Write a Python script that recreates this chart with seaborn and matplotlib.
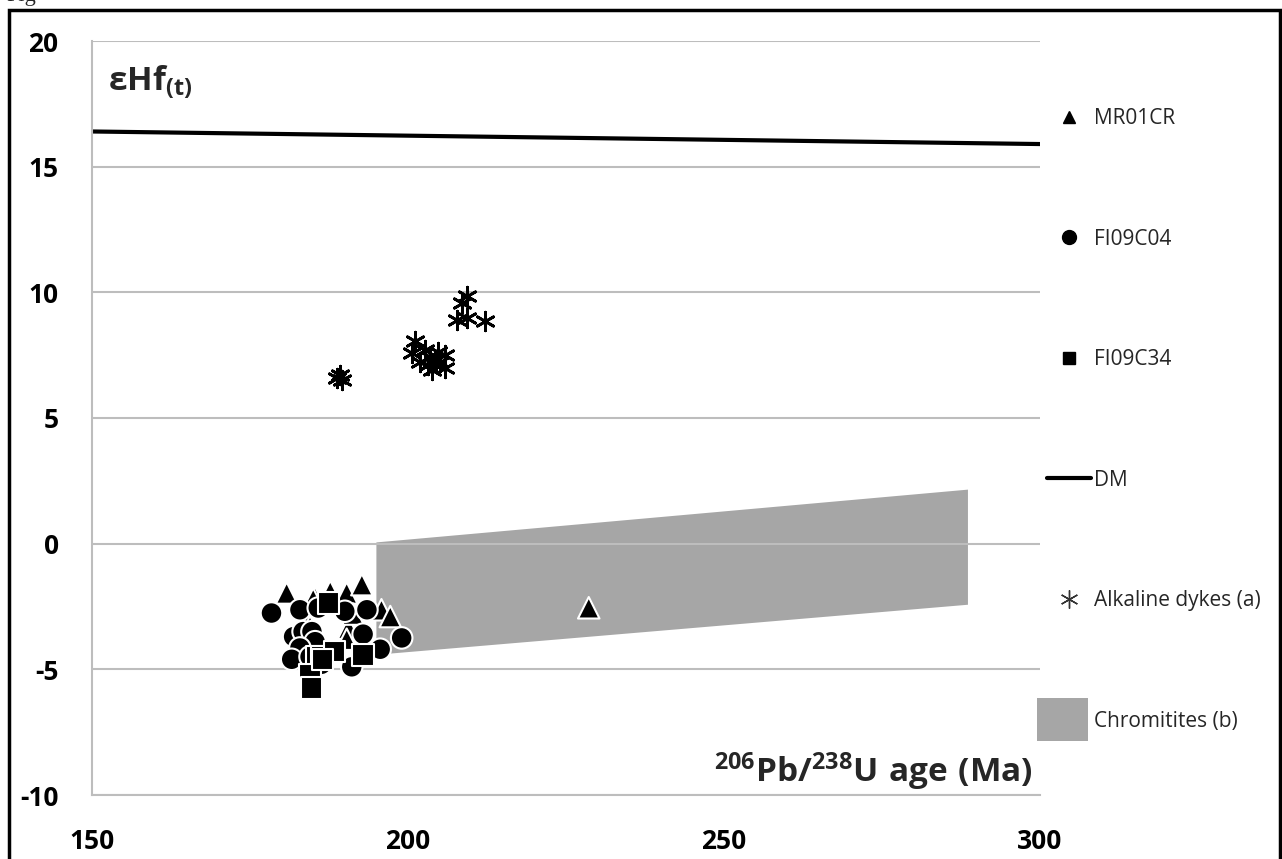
import matplotlib
matplotlib.use("Agg")
import matplotlib.pyplot as plt
import seaborn as sns
import pandas as pd
from matplotlib.lines import Line2D
from matplotlib.patches import Patch, Rectangle
from matplotlib.legend_handler import HandlerPatch

# =========================
# Data
# =========================
mr01cr_age = [180.8, 185.3, 187.7, 190.3, 192.7, 195.8, 197.2, 184.2, 190.6, 190.3, 191.3, 185.0, 184.5, 228.6]
mr01cr_ehf = [-1.96, -2.15, -1.90, -1.96, -1.63, -2.63, -2.90, -3.10, -3.36, -3.80, -2.80, -2.20, -3.30, -2.55]

fi09c04_age = [178.4, 182.9, 185.8, 190.0, 193.5, 199.0, 192.9, 195.6, 181.9, 183.4,
               184.8, 185.3, 182.9, 181.6, 184.5, 186.3, 191.1]
fi09c04_ehf = [-2.76, -2.63, -2.56, -2.69, -2.63, -3.75, -3.60, -4.20, -3.70, -3.50,
               -3.50, -3.90, -4.15, -4.60, -4.50, -4.80, -4.90]

fi09c34_age = [187.4, 185.6, 186.3, 188.4, 192.9, 184.5, 184.7, 186.5]
fi09c34_ehf = [-2.36, -4.48, -4.50, -4.29, -4.42, -5.20, -5.75, -4.60]

dykes_age = [209.3, 208.5, 207.7, 209.3, 212.2, 201.1, 200.6, 203.5, 204.3, 205.1, 203.2,
             205.9, 202.7, 204.8, 203.8, 205.9, 201.9, 189.2, 189.5, 188.8]
dykes_ehf = [9.84, 9.58, 8.91, 8.98, 8.85, 8.05, 7.59, 7.44, 7.30, 7.24, 7.10,
             7.00, 7.70, 7.64, 6.92, 7.50, 7.24, 6.72, 6.50, 6.60]

dm_age = [150, 300]
dm_ehf = [16.4, 15.9]

chrom_age = [195.0, 288.6, 288.6, 195.0]
chrom_ehf = [0.05, 2.15, -2.43, -4.42]

legend_labels = ["MR01CR", "FI09C04", "FI09C34", "DM", "Alkaline dykes (a)", "Chromitites (b)"]

# =========================
# Style
# =========================
sns.set_style("white")
plt.rcParams["font.family"] = ["Open Sans", "DejaVu Sans"]
plt.rcParams["axes.unicode_minus"] = False

grid_col = "#bdbdbd"
chrom_col = "#a6a6a6"

fig = plt.figure(figsize=(12.82, 8.59), dpi=100)
ax = fig.add_axes([92 / 1282, 1 - 795 / 859, 948 / 1282, 754 / 859])

samples = pd.DataFrame({
    "age": mr01cr_age + fi09c04_age + fi09c34_age,
    "ehf": mr01cr_ehf + fi09c04_ehf + fi09c34_ehf,
    "sample": ["MR01CR"] * len(mr01cr_age) + ["FI09C04"] * len(fi09c04_age) + ["FI09C34"] * len(fi09c34_age),
})
dykes = pd.DataFrame({"age": dykes_age, "ehf": dykes_ehf})
dm = pd.DataFrame({"age": dm_age, "ehf": dm_ehf})

# chromitite field
ax.fill(chrom_age, chrom_ehf, color=chrom_col, lw=0, zorder=0.3)

# DM line
sns.lineplot(data=dm, x="age", y="ehf", color="black", lw=3, ax=ax, zorder=2)

# alkaline dykes
sns.scatterplot(data=dykes, x="age", y="ehf", marker=(6, 2, 0), s=180, color="black",
                linewidth=2, ax=ax, zorder=3, legend=False)

# zircon samples
sns.scatterplot(data=samples, x="age", y="ehf", style="sample",
                markers={"MR01CR": "^", "FI09C04": "o", "FI09C34": "s"},
                s=240, color="black", edgecolor="white", linewidth=1.5,
                ax=ax, zorder=4, legend=False)

# =========================
# Axes
# =========================
ax.set_xlim(150, 300)
ax.set_ylim(-10, 20)
ax.set_xticks([150, 200, 250, 300])
ax.set_yticks(range(-10, 21, 5))
ax.set_xlabel("")
ax.set_ylabel("")
ax.set_axisbelow(True)
ax.yaxis.grid(True, color=grid_col, lw=1.5)
ax.xaxis.grid(False)
for side in ["top", "right"]:
    ax.spines[side].set_visible(False)
for side in ["left", "bottom"]:
    ax.spines[side].set_color(grid_col)
    ax.spines[side].set_linewidth(1.5)
ax.tick_params(axis="both", direction="out", length=10, width=1.5, color=grid_col,
               labelsize=19, labelcolor="black")
ax.tick_params(axis="x", pad=14)
ax.tick_params(axis="y", pad=14)
for lab in ax.get_xticklabels() + ax.get_yticklabels():
    lab.set_fontweight("bold")

ax.text(16 / 948, (795 - 90) / 754, r"$\mathregular{εHf_{(t)}}$", transform=ax.transAxes,
        fontsize=24, fontweight="bold", ha="left", va="baseline")
ax.text((1033 - 92) / 948, (795 - 782) / 754, r"$\mathregular{^{206}Pb/^{238}U\ age\ (Ma)}$",
        transform=ax.transAxes, fontsize=24, fontweight="bold", ha="right", va="baseline")

# =========================
# Legend
# =========================
def big_patch(legend, orig_handle, xdescent, ydescent, width, height, fontsize):
    return Rectangle((-xdescent - 7, -ydescent - 10), width + 5, height + 20)

handles = [
    Line2D([], [], marker="^", color="black", ls="none", markersize=9),
    Line2D([], [], marker="o", color="black", ls="none", markersize=10),
    Line2D([], [], marker="s", color="black", ls="none", markersize=9),
    Line2D([], [], color="black", lw=3),
    Line2D([], [], marker=(6, 2, 0), color="#333333", ls="none", markersize=13, markeredgewidth=1),
    Patch(facecolor=chrom_col, edgecolor="none"),
]
ax.legend(handles, legend_labels, loc="upper left",
          bbox_to_anchor=(1047 / 1282, 1 - 108 / 859), bbox_transform=fig.transFigure,
          frameon=False, fontsize=15, labelspacing=4.78, handlelength=2.1,
          handletextpad=0.15, borderpad=0, borderaxespad=0,
          handler_map={Patch: HandlerPatch(patch_func=big_patch)})

# =========================
# Frame and caption remnant
# =========================
fig.patches.append(Rectangle((9 / 1282, -0.1), (1280 - 9) / 1282, 1.1 - 10 / 859,
                             transform=fig.transFigure, fill=False, ec="black", lw=2.5))
fig.text(6 / 1282, 1 - 1 / 859, "Fig", fontsize=16, family="Liberation Serif",
         ha="left", va="baseline")

fig.savefig("out.png", dpi=100)
plt.close()
